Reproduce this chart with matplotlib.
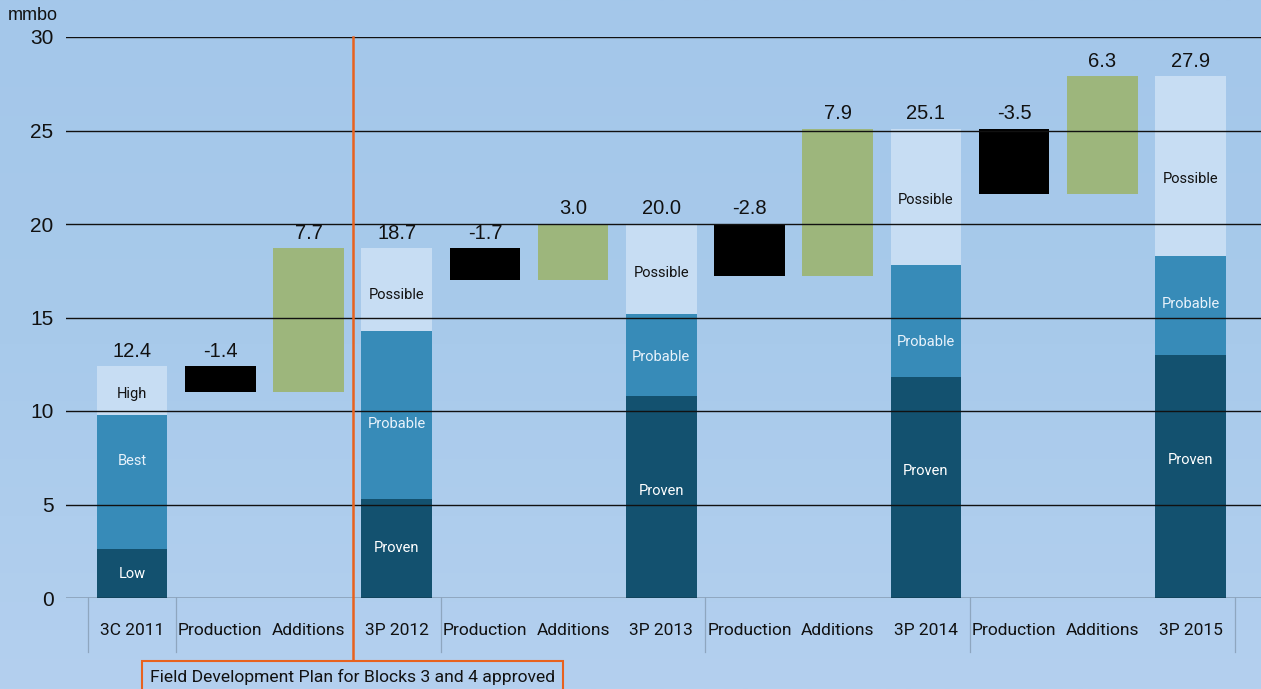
import numpy as np
import matplotlib
matplotlib.use("Agg")
import matplotlib.pyplot as plt
from matplotlib.colors import LinearSegmentedColormap

# categories along the x axis
categories = ["3C 2011", "Production", "Additions", "3P 2012", "Production", "Additions",
              "3P 2013", "Production", "Additions", "3P 2014", "Production", "Additions",
              "3P 2015"]

# stacked reserve bars: cumulative tops of each segment
stack_idx = [0, 3, 6, 9, 12]
stack_bottom_top = [2.6, 5.3, 10.8, 11.8, 13.0]
stack_mid_top = [9.8, 14.3, 15.2, 17.8, 18.3]
stack_total = [12.4, 18.7, 20.0, 25.1, 27.9]
stack_names = [("Low", "Best", "High")] + [("Proven", "Probable", "Possible")] * 4

# production (negative) and additions (positive) movements
prod_idx = [1, 4, 7, 10]
prod_vals = [-1.4, -1.7, -2.8, -3.5]
add_idx = [2, 5, 8, 11]
add_vals = [7.7, 3.0, 7.9, 6.3]

yticks = [0, 5, 10, 15, 20, 25, 30]

# where the segment names sit inside each stacked bar (bottom, mid, top)
name_y = [(1.3, 7.3, 10.9), (2.7, 9.3, 16.2), (5.7, 12.9, 17.4),
          (6.8, 13.7, 21.3), (7.4, 15.7, 22.4)]

DARK = "#13516f"
MID = "#378bb8"
LIGHT = "#c7ddf3"
GREEN = "#9db67c"
ORANGE = "#e8621e"

NUM_FONT = ["Liberation Sans", "DejaVu Sans"]
LAB_FONT = ["Roboto", "DejaVu Sans"]

fig = plt.figure(figsize=(12.61, 6.89), dpi=100)

# background gradient
bg = fig.add_axes([0, 0, 1, 1], zorder=-5)
grad = np.linspace(0, 1, 256).reshape(-1, 1)
cmap = LinearSegmentedColormap.from_list("bg", ["#a4c7ea", "#a8caeb", "#b4d0ef"])
bg.imshow(grad, aspect="auto", cmap=cmap, extent=[0, 1, 0, 1], origin="upper")
bg.axis("off")

ax = fig.add_axes([66 / 1261, 91 / 689, 1 - 66 / 1261, (598 - 37) / 689])
ax.patch.set_alpha(0)
for s in ax.spines.values():
    s.set_visible(False)

width = 0.8

# stacked bars
for k, i in enumerate(stack_idx):
    b, m, t = stack_bottom_top[k], stack_mid_top[k], stack_total[k]
    ax.bar(i, b, width, color=DARK, zorder=2)
    ax.bar(i, m - b, width, bottom=b, color=MID, zorder=2)
    ax.bar(i, t - m, width, bottom=m, color=LIGHT, zorder=2)
    names = stack_names[k]
    ny = name_y[k]
    ax.text(i, ny[0], names[0], ha="center", va="center", color="white",
            fontsize=10.5, family=LAB_FONT, zorder=4)
    ax.text(i, ny[1], names[1], ha="center", va="center", color="#e8f2fb",
            fontsize=10.5, family=LAB_FONT, zorder=4)
    ax.text(i, ny[2], names[2], ha="center", va="center", color="#111111",
            fontsize=10.5, family=LAB_FONT, zorder=4)
    ax.text(i, t + 0.3, f"{t:.1f}", ha="center", va="bottom", fontsize=14.5,
            family=NUM_FONT, color="#111111", zorder=4)

# production and additions floating bars
for k in range(len(prod_idx)):
    start = stack_total[k]
    p = prod_vals[k]
    ax.bar(prod_idx[k], -p, width, bottom=start + p, color="black", zorder=2)
    ax.text(prod_idx[k], start + 0.3, f"{p:.1f}", ha="center", va="bottom",
            fontsize=14.5, family=NUM_FONT, color="#111111", zorder=4)
    a = add_vals[k]
    ax.bar(add_idx[k], a, width, bottom=start + p, color=GREEN, zorder=2)
    ax.text(add_idx[k], start + p + a + 0.3, f"{a:.1f}", ha="center", va="bottom",
            fontsize=14.5, family=NUM_FONT, color="#111111", zorder=4)

# gridlines on top of bars
for y in yticks:
    ax.axhline(y, color="#111111", lw=1.0, zorder=3)

ax.set_xlim(-0.75, 12.8)
ax.set_ylim(0, 30)
ax.set_yticks(yticks)
ax.set_yticklabels([str(y) for y in yticks], fontsize=15, family=NUM_FONT,
                   color="#111111")
ax.tick_params(axis="y", length=0, pad=9)
ax.set_xticks(range(len(categories)))
ax.set_xticklabels(categories, fontsize=12.5, family=LAB_FONT, color="#111111")
ax.tick_params(axis="x", length=0, pad=18)

# category group separators below the axis
for xs in [-0.5, 0.5, 3.5, 6.5, 9.5, 12.5]:
    ax.plot([xs, xs], [0, -2.9], color="#8ea6bf", lw=0.9, clip_on=False, zorder=1)

fig.text(8 / 1261, 1 - 16 / 689, "mmbo", fontsize=13, family=NUM_FONT,
         color="#111111", ha="left", va="center")

# milestone marker
ax.plot([2.5, 2.5], [30, -3.3], color=ORANGE, lw=1.8, clip_on=False, zorder=5)
ax.text(2.5, -4.2, "Field Development Plan for Blocks 3 and 4 approved",
        ha="center", va="center", fontsize=12.6, family=LAB_FONT, color="#111111",
        clip_on=False, zorder=5,
        bbox=dict(boxstyle="square,pad=0.45", fc="none", ec=ORANGE, lw=1.5))

fig.savefig("out.png", dpi=100)
